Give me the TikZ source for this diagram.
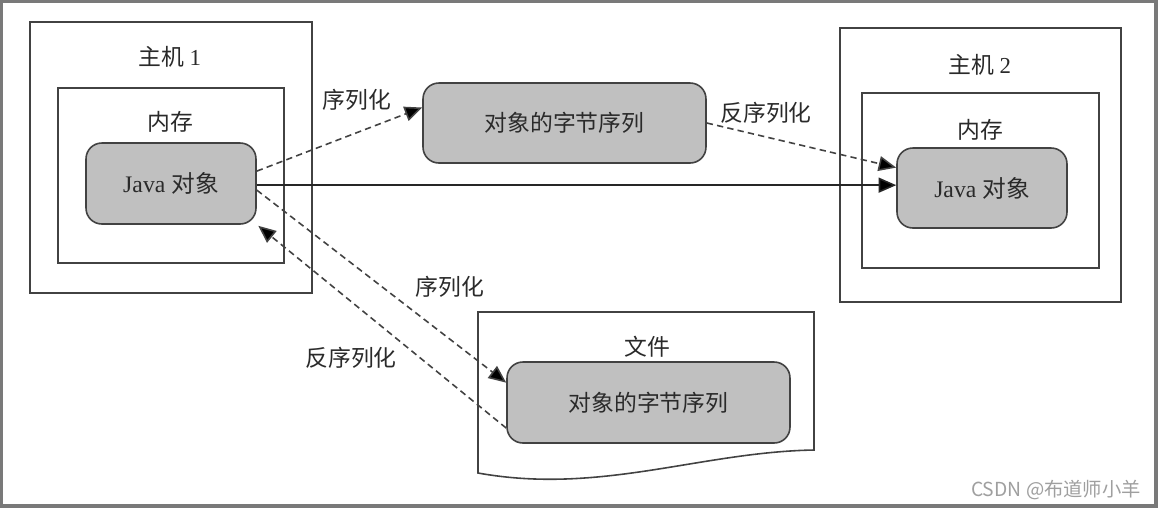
\documentclass[tikz,border=0pt]{standalone}
\usepackage{fontspec}
\setmainfont{Liberation Serif}
\newfontfamily\cjk{Noto Sans CJK SC}
\usetikzlibrary{arrows.meta, calc}
\definecolor{objfill}{HTML}{C0C0C0}
\definecolor{edge}{HTML}{424242}
\definecolor{ink}{HTML}{2A2A2A}
\tikzset{
  box/.style={draw=edge, line width=0.9pt, inner sep=0pt},
  obj/.style={draw=edge, fill=objfill, rounded corners=9pt, line width=0.9pt, inner sep=0pt, text=ink, font=\fontsize{13.5}{16}\selectfont},
  t/.style={inner sep=0pt, text=ink, font=\cjk\fontsize{13}{15}\selectfont},
  e/.style={-{Triangle[length=10pt,width=8.5pt,fill=black]}, dashed, dash pattern=on 3.6pt off 2.4pt, line width=0.9pt, draw=edge},
  se/.style={-{Triangle[length=10pt,width=8.5pt,fill=black]}, line width=0.9pt, draw=black!85}
}

\begin{document}
\begin{tikzpicture}[x=0.02cm, y=-0.02cm]
  \fill[gray!95!black] (0,0) rectangle (1158,508);
  \fill[white] (3,3) rectangle (1154,504);
  \useasboundingbox (0,0) rectangle (1158,508);

  % host 1
  \node[box, minimum width=5.64cm, minimum height=5.42cm] (h1) at (171,157.5) {};
  \node[t] (h1t) at (170,57) {主机 {\rmfamily 1}};
  \node[box, minimum width=4.52cm, minimum height=3.5cm] (m1) at (171,175.5) {};
  \node[t] (m1t) at (170,122) {内存};
  \node[obj, minimum width=3.4cm, minimum height=1.62cm] (j1) at (171,183.5) {Java {\cjk 对象}};

  % host 2
  \node[box, minimum width=5.62cm, minimum height=5.48cm] (h2) at (980.5,165) {};
  \node[t] (h2t) at (980,65) {主机 {\rmfamily 2}};
  \node[box, minimum width=4.74cm, minimum height=3.5cm] (m2) at (980.5,180.5) {};
  \node[t] (m2t) at (980,130) {内存};
  \node[obj, minimum width=3.4cm, minimum height=1.6cm] (j2) at (982,188) {Java {\cjk 对象}};

  % bytes on the wire
  \node[obj, font=\cjk\fontsize{13}{15}\selectfont, minimum width=5.66cm, minimum height=1.6cm] (b1) at (564.5,123) {对象的字节序列};

  % file
  \draw[box, fill=white] (478,312) -- (814,312) -- (814,450)
    .. controls (700,452) and (600,495) .. (478,473) -- cycle;
  \node[t] (ft) at (647,347) {文件};
  \node[obj, font=\cjk\fontsize{13}{15}\selectfont, minimum width=5.66cm, minimum height=1.62cm] (b2) at (648.5,402.5) {对象的字节序列};

  % labels
  \node[t] (l1) at (357,100) {序列化};
  \node[t] (l2) at (766,113) {反序列化};
  \node[t] (l3) at (450,287) {序列化};
  \node[t] (l4) at (351,358) {反序列化};

  \coordinate (s1) at ($(j1.north east)!0.52!(j1.south east)$);
  \draw[se] (s1) -- (s1 -| j2.west);
  \draw[e] ($(j1.north east)!0.35!(j1.south east)$) -- ($(b1.north west)!0.31!(b1.south west)$);
  \draw[e] (b1.east) -- ($(j2.north west)!0.25!(j2.south west)$);
  \draw[e] ($(j1.north east)!0.58!(j1.south east)$) -- ($(b2.north west)!0.26!(b2.south west)$);
  \draw[e] ($(b2.north west)!0.81!(b2.south west)$) -- ([xshift=0.03cm, yshift=-0.02cm]j1.south east);

  \node[inner sep=0pt, text=gray!75, font=\cjk\fontsize{11}{13}\selectfont] (wm) at (1056,490) {CSDN @布道师小羊};
\end{tikzpicture}
\end{document}
